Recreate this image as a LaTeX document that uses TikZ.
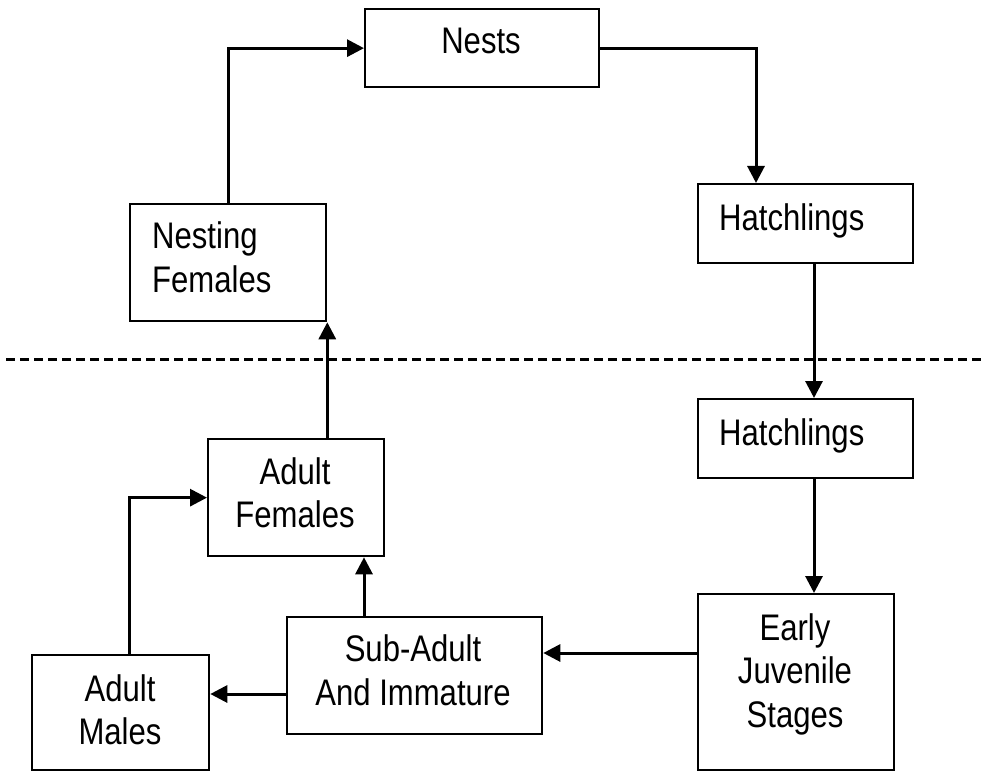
\documentclass[tikz,border=0pt]{standalone}
\usepackage{fontspec}
\setmainfont{Liberation Sans}[FakeStretch=0.84]
\usetikzlibrary{arrows.meta,calc}
\tikzset{
  box/.style={draw=black, line width=2.3pt, rectangle, inner sep=0pt, anchor=north west},
  conn/.style={draw=black, line width=3pt},
  arr/.style={conn, -{Triangle[length=17pt 0,width=17pt 0]}},
  lbl/.style={anchor=base, inner sep=0pt, font=\fontsize{37}{44}\selectfont},
  lbll/.style={anchor=base west, inner sep=0pt, font=\fontsize{37}{44}\selectfont},
  sep/.style={draw=black, line width=3pt, dash pattern=on 8.5pt off 5.5pt}
}
\begin{document}
\begin{tikzpicture}[x=1pt,y=-1pt]
\useasboundingbox (0,0) rectangle (981,770);
% boxes
\node[box, minimum width=234pt, minimum height=78pt] (nests) at (364,8) {};
\node[box, minimum width=215pt, minimum height=79pt] (hat1) at (697,183) {};
\node[box, minimum width=196pt, minimum height=117pt] (nf) at (129,203) {};
\node[box, minimum width=215pt, minimum height=79pt] (hat2) at (697,398) {};
\node[box, minimum width=176pt, minimum height=117pt] (af) at (207,438) {};
\node[box, minimum width=177pt, minimum height=115pt] (am) at (31,654) {};
\node[box, minimum width=255pt, minimum height=117pt] (sa) at (286,616) {};
\node[box, minimum width=196pt, minimum height=176pt] (ej) at (697,593) {};
% labels
\node[lbl] (tnests) at (481,54) {Nests};
\node[lbll] (that1) at (719,230) {Hatchlings};
\node[lbll] (tnf1) at (152,248) {Nesting};
\node[lbll] (tnf2) at (152,292) {Females};
\node[lbll] (that2) at (719,445) {Hatchlings};
\node[lbl] (taf1) at (295,484) {Adult};
\node[lbl] (taf2) at (295,527) {Females};
\node[lbl] (tam1) at (120,701) {Adult};
\node[lbl] (tam2) at (120,744) {Males};
\node[lbl] (tsa1) at (413,661) {Sub-Adult};
\node[lbl] (tsa2) at (413,705) {And Immature};
\node[lbl] (tej1) at (795,640) {Early};
\node[lbl] (tej2) at (795,683) {Juvenile};
\node[lbl] (tej3) at (795,727) {Stages};
% helper coordinates
\coordinate (cA) at (756,0);
\coordinate (cB) at (814,0);
\coordinate (rA) at (0,653);
\coordinate (rB) at (0,694);
\coordinate (cC) at (364,0);
\coordinate (cD) at (129,0);
% dashed separator
\coordinate (dL) at (6,359);
\coordinate (dR) at (981,359);
\draw[sep] (dL) -- (dR);
% connectors
\draw[arr] (nf.north) |- (nests.west);
\draw[arr] (nests.east) -| (hat1.north -| cA);
\draw[arr] (hat1.south -| cB) -- (hat2.north -| cB);
\draw[arr] (hat2.south -| cB) -- (ej.north -| cB);
\draw[arr] (ej.west |- rA) -- (sa.east |- rA);
\draw[arr] (sa.west |- rB) -- (am.east |- rB);
\draw[arr] (sa.north -| cC) -- (af.south -| cC);
\draw[arr] (am.north -| cD) |- (af.west);
\draw[arr] (af.north -| nf.south east) -- (nf.south east);
\end{tikzpicture}
\end{document}
